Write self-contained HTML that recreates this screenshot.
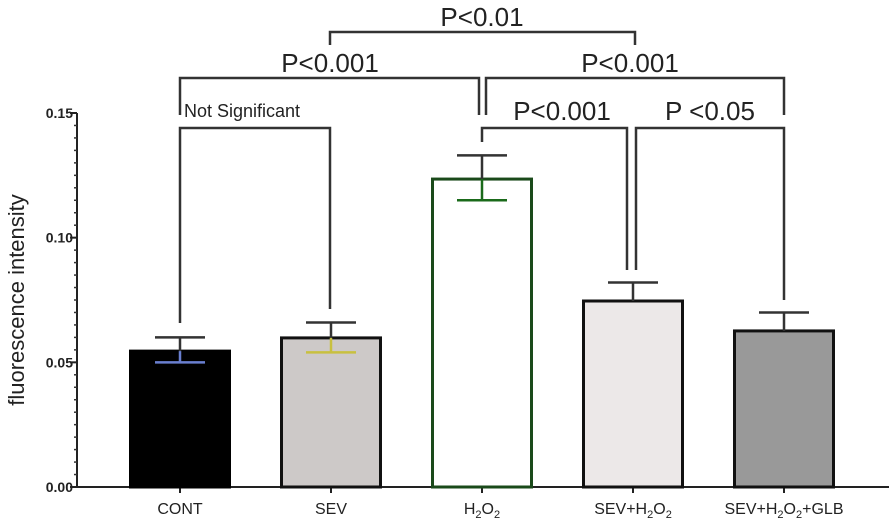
<!DOCTYPE html>
<html><head><meta charset="utf-8"><style>
html,body{margin:0;padding:0;background:#fff;}
svg{display:block;font-family:"Liberation Sans",Arial,sans-serif;}
</style></head><body>
<svg id="chart" width="889" height="523" viewBox="0 0 889 523" xmlns="http://www.w3.org/2000/svg">
<g id="axes"></g><g id="bars"></g><g id="sig"></g>
<text transform="translate(24,300) rotate(-90)" text-anchor="middle" font-size="22" fill="#222">fluorescence intensity</text>
</svg>
<script>
const categories = ["CONT","SEV","H2O2","SEV+H2O2","SEV+H2O2+GLB"];
const means = [0.0545, 0.0598, 0.1235, 0.0746, 0.0626];
const errUp = [0.060, 0.066, 0.133, 0.082, 0.070];
const errLow = [0.050, 0.054, 0.115, null, null];
const yTicks = [0, 0.05, 0.10, 0.15];
const yTickLabels = ["0.00","0.05","0.10","0.15"];
const fills = ["#000000","#cdc9c8","#ffffff","#ece8e8","#999999"];
const strokes = ["#000","#111","#1a4a1a","#111","#111"];
const innerColors = ["#6a7fd0","#c8c040","#1a6a1a","#111","#111"];

const NS="http://www.w3.org/2000/svg";
const X0=77, Y0=487, YTOP=113, X1=889;
function y(v){return Y0-(v/0.15)*(Y0-YTOP);}
function xc(i){return 180+i*151;}
const BW=99;
function mk(tag,attrs,parent){const e=document.createElementNS(NS,tag);for(const k in attrs)e.setAttribute(k,attrs[k]);parent.appendChild(e);return e;}
const axes=document.getElementById('axes'), bars=document.getElementById('bars'), sig=document.getElementById('sig');

let ya=mk('line',{x1:X0,y1:YTOP,x2:X0,y2:Y0,stroke:'#222','stroke-width':2},axes);


let xa=mk('line',{x1:X0,y1:Y0,x2:X1,y2:Y0,stroke:'#222','stroke-width':2},axes);


for(let t=0;t<=0.15+1e-9;t+=0.005){mk('line',{x1:X0-3,x2:X0,y1:y(t),y2:y(t),stroke:'#333','stroke-width':1.5},axes);}
yTicks.forEach((v,i)=>{
  mk('line',{x1:X0-7,x2:X0,y1:y(v),y2:y(v),stroke:'#222','stroke-width':2},axes);
  const t=mk('text',{x:X0-4,y:y(v)+5,'text-anchor':'end','font-size':14,'font-weight':'bold',fill:'#222'},axes);
  t.textContent=yTickLabels[i];
  
  
});
const xlabHTML=["CONT","SEV",'H<tspan font-size="11" dy="4">2</tspan><tspan dy="-4">O</tspan><tspan font-size="11" dy="4">2</tspan>',
 'SEV+H<tspan font-size="11" dy="4">2</tspan><tspan dy="-4">O</tspan><tspan font-size="11" dy="4">2</tspan>',
 'SEV+H<tspan font-size="11" dy="4">2</tspan><tspan dy="-4">O</tspan><tspan font-size="11" dy="4">2</tspan><tspan dy="-4">+GLB</tspan>'];
categories.forEach((c,i)=>{
  const cx=xc(i);
  mk('line',{x1:cx,x2:cx,y1:Y0,y2:Y0+6,stroke:'#222','stroke-width':2},axes);
  const t=mk('text',{x:cx,y:514,'text-anchor':'middle','font-size':16,fill:'#222'},axes);
  t.innerHTML=xlabHTML[i];
  
  
  const r=mk('rect',{x:cx-BW/2,y:y(means[i]),width:BW,height:Y0-y(means[i]),fill:fills[i],stroke:strokes[i],'stroke-width':3},bars);
  
  
  const e=mk('g',{},bars);
  
  
  mk('line',{x1:cx,x2:cx,y1:y(errUp[i]),y2:y(means[i]),stroke:'#333','stroke-width':2.5},e);
  mk('line',{x1:cx-25,x2:cx+25,y1:y(errUp[i]),y2:y(errUp[i]),stroke:'#333','stroke-width':2.5},e);
  if(errLow[i]!==null){
    mk('line',{x1:cx,x2:cx,y1:y(means[i]),y2:y(errLow[i]),stroke:innerColors[i],'stroke-width':2.5},e);
    mk('line',{x1:cx-25,x2:cx+25,y1:y(errLow[i]),y2:y(errLow[i]),stroke:innerColors[i],'stroke-width':2.5},e);
  }
});
const brackets=[
 {x1:180,x2:330,y:128,l1:323,l2:309,label:"Not Significant",lx:184,ly:117,fs:18,anchor:'start',name:'bracket-not-significant'},
 {x1:180,x2:479,y:78,l1:115,l2:115,label:"P<0.001",lx:330,ly:72,fs:26,anchor:'middle',name:'bracket-cont-h2o2'},
 {x1:330,x2:635,y:32,l1:45,l2:45,label:"P<0.01",lx:482,ly:26,fs:26,anchor:'middle',name:'bracket-sev-sevh2o2'},
 {x1:486,x2:784,y:78,l1:115,l2:115,label:"P<0.001",lx:630,ly:72,fs:26,anchor:'middle',name:'bracket-h2o2-glb'},
 {x1:482,x2:627,y:128,l1:142,l2:270,label:"P<0.001",lx:562,ly:120,fs:26,anchor:'middle',name:'bracket-h2o2-sevh2o2'},
 {x1:636,x2:784,y:128,l1:270,l2:300,label:"P <0.05",lx:710,ly:120,fs:26,anchor:'middle',name:'bracket-sevh2o2-glb'}
];
brackets.forEach(b=>{
  const g=mk('g',{},sig);
  
  
  mk('polyline',{points:`${b.x1},${b.l1} ${b.x1},${b.y} ${b.x2},${b.y} ${b.x2},${b.l2}`,fill:'none',stroke:'#333','stroke-width':2.5},g);
  const t=mk('text',{x:b.lx,y:b.ly,'text-anchor':b.anchor,'font-size':b.fs,fill:'#222'},g);
  t.textContent=b.label;
});
</script>
</body></html>
